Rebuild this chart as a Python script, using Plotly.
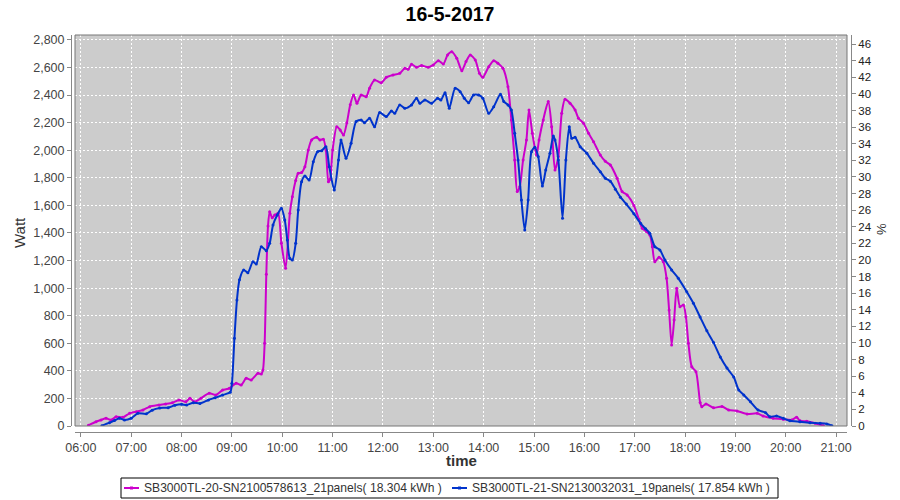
import plotly.graph_objects as go

DATE = "2017-05-16 "

title_text = "16-5-2017"
name_a = "SB3000TL-20-SN2100578613_21panels( 18.304 kWh )"
name_b = "SB3000TL-21-SN2130032031_19panels( 17.854 kWh )"
color_a = "#CC00CC"
color_b = "#0033CC"

time_a = ["06:09","06:18","06:24","06:30","06:36","06:42","06:50","06:58","07:06","07:14",
          "07:22","07:33","07:41","07:49","07:57","08:05","08:10","08:15","08:23","08:33",
          "08:41","08:49","08:57","09:05","09:11","09:17","09:23","09:31","09:35","09:37",
          "09:39","09:41","09:43","09:45","09:48","09:51","09:55","09:59","10:04","10:09",
          "10:12","10:16","10:19","10:23","10:27","10:31","10:35","10:41","10:45","10:49",
          "10:52","10:55","10:57","11:00","11:05","11:09","11:13","11:17","11:21","11:25",
          "11:29","11:34","11:40","11:44","11:50","11:58","12:04","12:12","12:20","12:26",
          "12:30","12:34","12:40","12:46","12:54","13:00","13:06","13:12","13:17","13:22",
          "13:28","13:34","13:39","13:44","13:50","13:55","13:59","14:06","14:12","14:17",
          "14:23","14:29","14:33","14:37","14:40","14:43","14:47","14:51","14:54","14:58",
          "15:03","15:06","15:11","15:17","15:21","15:25","15:29","15:33","15:37","15:43",
          "15:49","15:53","15:59","16:05","16:11","16:19","16:25","16:31","16:39","16:45",
          "16:51","16:59","17:05","17:09","17:14","17:18","17:21","17:24","17:29","17:34",
          "17:38","17:41","17:44","17:47","17:50","17:54","17:58","18:01","18:04","18:08",
          "18:13","18:18","18:20","18:25","18:34","18:44","18:52","19:02","19:14","19:26",
          "19:33","19:45","19:57","20:07","20:13","20:17","20:25","20:35","20:45"]
watt_a = [5,31,44,56,44,67,63,92,104,116,
          140,152,160,169,189,176,201,176,201,237,
          225,261,273,310,297,346,334,382,377,406,
          600,1100,1450,1554,1510,1530,1543,1325,1144,1543,
          1663,1780,1833,1838,1881,2002,2075,2094,2075,2080,
          2002,1772,1790,2002,2171,2147,2111,2200,2330,2401,
          2341,2401,2389,2450,2510,2490,2529,2546,2558,2594,
          2587,2624,2602,2614,2602,2619,2650,2626,2691,2715,
          2667,2577,2643,2691,2655,2558,2529,2606,2650,2631,
          2594,2461,2220,1930,1700,1736,1930,2075,2292,2123,
          1966,2075,2220,2353,2171,1857,1954,2268,2370,2341,
          2292,2232,2196,2123,2062,1966,1920,1893,1797,1700,
          1676,1600,1500,1434,1410,1386,1301,1192,1224,1192,
          1071,841,588,769,999,865,878,793,600,430,
          394,170,140,160,132,142,116,109,87,92,
          73,56,49,44,63,38,34,20,2]

time_b = ["06:25","06:34","06:40","06:46","06:52","07:00","07:08","07:18","07:25","07:34",
          "07:44","07:52","08:00","08:06","08:14","08:22","08:32","08:40","08:49","08:58",
          "09:00","09:03","09:06","09:09","09:14","09:19","09:25","09:29","09:35","09:41",
          "09:45","09:49","09:54","09:59","10:03","10:06","10:09","10:12","10:16","10:19",
          "10:23","10:27","10:32","10:37","10:42","10:47","10:52","10:56","11:02","11:07",
          "11:10","11:16","11:22","11:28","11:34","11:38","11:44","11:50","11:56","12:04",
          "12:10","12:14","12:20","12:26","12:34","12:40","12:44","12:50","12:58","13:05",
          "13:09","13:14","13:19","13:26","13:32","13:37","13:42","13:48","13:54","13:59",
          "14:06","14:12","14:20","14:24","14:29","14:33","14:37","14:41","14:45","14:49",
          "14:53","14:57","15:01","15:05","15:10","15:14","15:19","15:23","15:25","15:29",
          "15:34","15:38","15:42","15:45","15:49","15:55","16:03","16:11","16:19","16:25",
          "16:31","16:37","16:43","16:50","16:59","17:07","17:13","17:18","17:24","17:30",
          "17:36","17:44","17:52","18:02","18:10","18:18","18:26","18:34","18:42","18:50",
          "18:58","19:04","19:10","19:18","19:27","19:36","19:41","19:49","19:57","20:05",
          "20:17","20:29","20:41","20:49","20:55"]
watt_b = [2,24,40,56,44,56,92,88,115,131,
          133,150,157,152,169,164,189,205,225,245,
          310,636,914,1060,1132,1112,1192,1175,1301,1272,
          1325,1458,1530,1579,1494,1349,1216,1204,1325,1567,
          1772,1813,1784,1917,1990,1997,2026,1881,1712,1930,
          2075,1942,2051,2208,2220,2200,2232,2171,2273,2244,
          2285,2268,2329,2305,2329,2377,2341,2365,2341,2377,
          2365,2418,2305,2449,2425,2377,2345,2401,2401,2377,
          2268,2316,2406,2353,2329,2292,2123,1930,1639,1422,
          1639,1990,2022,1954,1741,1857,1978,2104,2075,1930,
          1507,1930,2171,2087,2094,2026,1978,1906,1845,1797,
          1775,1718,1660,1610,1540,1470,1430,1398,1301,1277,
          1204,1132,1071,974,890,790,690,605,500,420,
          355,261,225,175,116,97,67,73,56,38,
          31,24,20,15,2]

pct_ticks = list(range(0, 47, 2))

FONT = "Liberation Sans"
TICKC = "#444444"
AXC = "#888888"

# figure geometry (pixels)
W, H = 900, 500
ML, MR, MT, MB = 71, 49, 35, 68
PW, PH = W - ML - MR, H - MT - MB


def px(xp):
    return (xp - ML) / PW


def py(yp):
    return (H - MB - yp) / PH


fig = go.Figure()
fig.add_trace(go.Scatter(
    x=[DATE + t for t in time_a], y=watt_a, name=name_a, showlegend=False,
    mode="lines+markers", line=dict(color=color_a, width=2, shape="spline", smoothing=0.7),
    marker=dict(size=3, color=color_a)))
fig.add_trace(go.Scatter(
    x=[DATE + t for t in time_b], y=watt_b, name=name_b, showlegend=False,
    mode="lines+markers", line=dict(color=color_b, width=2, shape="spline", smoothing=0.7),
    marker=dict(size=3, color=color_b)))
fig.add_trace(go.Scatter(x=[DATE + "12:00"], y=[None], yaxis="y2", showlegend=False,
                         mode="lines", hoverinfo="skip"))

fig.update_layout(
    width=W, height=H,
    margin=dict(l=ML, r=MR, t=MT, b=MB, autoexpand=False),
    paper_bgcolor="white", plot_bgcolor="#CCCCCC",
    font=dict(family=FONT, size=12.5, color=TICKC),
    title=dict(text="<b>" + title_text + "</b>", x=0.5, xanchor="center", xref="container",
               y=1 - 14 / H, yref="container", yanchor="middle",
               font=dict(family=FONT, size=19.5, color="black")),
    xaxis=dict(type="date", domain=[px(75), px(847)], anchor="free", position=0,
               range=[DATE + "05:53", DATE + "21:13"], dtick=3600000, tick0=DATE + "06:00",
               tickformat="%H:%M", showline=True, linecolor=AXC, ticks="outside", ticklen=4,
               tickcolor=AXC, showgrid=True, gridcolor="white", griddash="2px,2px", gridwidth=1,
               zeroline=False, tickfont=dict(size=12.5, color=TICKC), automargin=False),
    yaxis=dict(domain=[py(426), 1], anchor="free", position=0, range=[0, 2836], dtick=200,
               tickformat=",d", showline=True, linecolor=AXC, ticks="outside", ticklen=4,
               tickcolor=AXC, showgrid=True, gridcolor="white", griddash="2px,2px", gridwidth=1,
               zeroline=False, tickfont=dict(size=12.5, color=TICKC), automargin=False),
    yaxis2=dict(overlaying="y", side="right", anchor="free", position=1, range=[0, 47.1],
                tickvals=pct_ticks, showline=True, linecolor=AXC, ticks="outside", ticklen=4,
                tickcolor=AXC, showgrid=False, zeroline=False, automargin=False,
                tickfont=dict(size=11.5, color="#222222")),
    showlegend=False,
)

# plot border
fig.add_shape(type="rect", xref="x domain", yref="y domain", x0=0, x1=1, y0=0, y1=1,
              line=dict(color="#777777", width=1), fillcolor="rgba(0,0,0,0)", layer="above")

# axis titles
fig.add_annotation(text="Watt", xref="paper", yref="paper", x=px(20), y=py(233),
                   xanchor="center", yanchor="middle",
                   showarrow=False, textangle=-90, font=dict(size=15, color="#333333"))
fig.add_annotation(text="<b>time</b>", xref="paper", yref="paper", x=px(461), y=py(460),
                   xanchor="center", yanchor="middle",
                   showarrow=False, font=dict(size=15, color="#333333"))
fig.add_annotation(text="%", xref="paper", yref="paper", x=px(881), y=py(229),
                   xanchor="center", yanchor="middle",
                   showarrow=False, textangle=-90, font=dict(size=13, color="#333333"))

# legend (drawn manually to match the compact layout)
fig.add_shape(type="rect", xref="paper", yref="paper", x0=px(121), x1=px(778),
              y0=py(498), y1=py(478), line=dict(color="black", width=1), fillcolor="white")
for x0, x1, tx, col, name in [(124, 139, 142, color_a, name_a), (452, 467, 470, color_b, name_b)]:
    fig.add_shape(type="line", xref="paper", yref="paper", x0=px(x0), x1=px(x1),
                  y0=py(488), y1=py(488), line=dict(color=col, width=2))
    cx = (x0 + x1) / 2
    fig.add_shape(type="rect", xref="paper", yref="paper", x0=px(cx - 1.5), x1=px(cx + 1.5),
                  y0=py(489.5), y1=py(486.5), line=dict(color=col, width=0), fillcolor=col)
    fig.add_annotation(text=name, xref="paper", yref="paper", x=px(tx), y=py(488),
                       xanchor="left", yanchor="middle", showarrow=False,
                       font=dict(size=12.1, color="#333333"))

fig.write_html("out.html", config={"displayModeBar": False},
               post_script="document.body.style.margin='0px';document.body.style.padding='0px';")
